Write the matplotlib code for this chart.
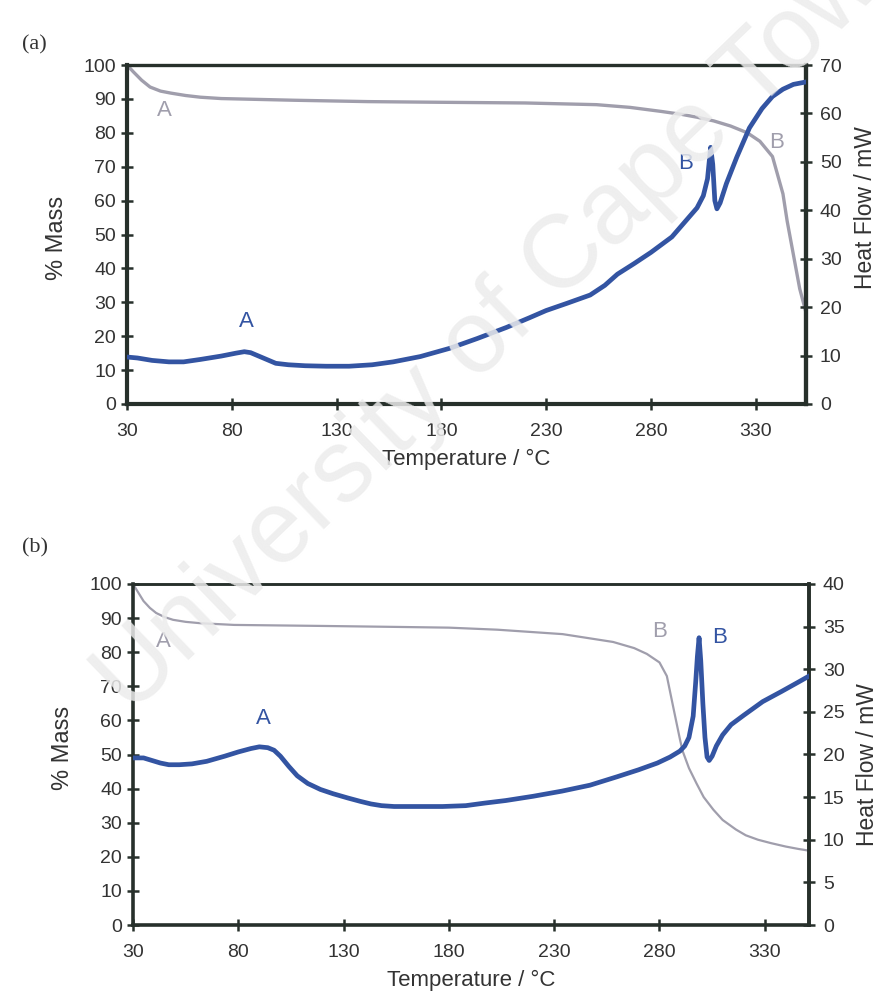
import matplotlib
matplotlib.use("Agg")
import matplotlib.pyplot as plt
import matplotlib.font_manager as fm

# ---------------- data ----------------
# Panel (a)
temp_a_mass = [30, 33, 37, 41, 46, 51, 58, 65, 75, 89, 110, 145, 180, 220, 254, 270, 285,
               295, 302, 310, 318, 326, 332, 338, 343, 345, 348, 351, 354]
mass_a = [100, 98, 95.5, 93.5, 92.3, 91.7, 91.0, 90.5, 90.1, 89.9, 89.6, 89.2, 89.0, 88.8,
          88.3, 87.5, 86.3, 85.4, 84.6, 83.5, 82.0, 80.0, 77.5, 73, 62, 54, 44, 34, 27]
temp_a_heat = [30, 35, 42, 50, 57, 65, 75, 82, 86, 89, 95, 101, 107, 115, 125, 136, 147, 157,
               170, 184, 197, 211, 222, 230, 240, 251, 258, 264, 272, 280, 290, 298, 302, 305,
               307, 308.5, 309.5, 310.5, 311.5, 313, 316, 321, 327, 333, 338, 343, 348, 354]
heat_a = [9.7, 9.5, 9.0, 8.7, 8.7, 9.2, 9.9, 10.5, 10.8, 10.6, 9.5, 8.4, 8.1, 7.9, 7.8, 7.8,
          8.1, 8.7, 9.8, 11.5, 13.5, 15.8, 17.8, 19.3, 20.8, 22.5, 24.5, 26.8, 29.0, 31.3,
          34.5, 38.5, 40.5, 43.0, 46.5, 53.0, 49.5, 42.0, 40.3, 41.5, 45.5, 51.0, 57.0, 61.0,
          63.5, 65.0, 66.0, 66.5]

# Panel (b)
temp_b_mass = [30, 32, 35, 38, 41, 45, 49, 55, 62, 78, 120, 157, 180, 203, 234, 258, 268, 274,
               280, 283.5, 286.5, 289.7, 291, 294, 297.6, 301, 305.6, 310, 316.3, 321, 326.8,
               333, 340, 346, 351]
mass_b = [100, 98, 95, 93, 91.5, 90.3, 89.5, 88.9, 88.5, 88.0, 87.7, 87.4, 87.2, 86.6, 85.3,
          83, 81.2, 79.5, 77, 73, 64, 54.5, 51, 46, 41.5, 37.5, 33.8, 30.8, 28, 26.3, 25, 24,
          23, 22.3, 21.8]
temp_b_heat = [30, 35, 39, 43, 47, 52, 58, 65, 73.5, 80, 86, 90, 94, 97, 100, 104, 108, 113,
               119, 125, 132, 138, 143, 148, 154, 165, 177, 188, 197, 207, 220, 233.6, 247, 260,
               270, 279, 285, 289.7, 292, 294, 296, 297.2, 298, 298.8, 299.6, 300.6, 301.6,
               302.6, 303.6, 305, 307, 310, 314, 320, 329, 338, 346, 351]
heat_b = [19.6, 19.6, 19.3, 19.0, 18.8, 18.8, 18.9, 19.2, 19.8, 20.3, 20.7, 20.9, 20.8, 20.5,
          19.8, 18.6, 17.5, 16.6, 15.9, 15.4, 14.9, 14.5, 14.2, 14.0, 13.9, 13.9, 13.9, 14.0,
          14.3, 14.6, 15.1, 15.7, 16.4, 17.4, 18.2, 19.0, 19.7, 20.4, 21.0, 22.0, 24.5, 28.5,
          31.5, 33.7, 31.0, 26.0, 22.0, 19.7, 19.3, 19.8, 21.0, 22.3, 23.5, 24.6, 26.2, 27.4,
          28.5, 29.2]

xticks = [30, 80, 130, 180, 230, 280, 330]
mass_ticks = list(range(0, 101, 10))
heat_ticks_a = list(range(0, 71, 10))
heat_ticks_b = list(range(0, 41, 5))

# ---------------- style ----------------
names = {f.name for f in fm.fontManager.ttflist}
narrow = 'Liberation Sans Narrow' if 'Liberation Sans Narrow' in names else 'Liberation Sans'
SANS = [narrow, 'Liberation Sans', 'DejaVu Sans']
plt.rcParams['font.family'] = SANS

BLUE = '#3354a2'
GRAY = '#a09eac'
SPINE = '#27302b'
TXT = '#333333'

fig = plt.figure(figsize=(8.8, 9.94), dpi=100)


def make_panel(rect, tm, m, th, h, xmax, hmax, hticks, spw, gray_lw, letters, tag, tagy,
               ylab_y, hlab_y):
    ax = fig.add_axes(rect)
    ax.plot(tm, m, color=GRAY, lw=gray_lw, zorder=2)
    ax.set_xlim(30, xmax)
    ax.set_ylim(0, 100)
    ax.set_xticks(xticks)
    ax.set_yticks(mass_ticks)
    for s in ax.spines.values():
        s.set_color(SPINE)
        s.set_linewidth(spw)
    ax.spines['top'].set_linewidth(spw * 0.8)
    ax.tick_params(axis='y', direction='inout', length=8, width=1.8, color=SPINE,
                   labelsize=14, labelcolor=TXT, pad=4)
    ax.tick_params(axis='x', direction='inout', length=8, width=1.8, color=SPINE,
                   labelsize=14, labelcolor=TXT, pad=10)
    ax.set_xlabel('Temperature / °C', fontsize=16, color=TXT, labelpad=6,
                  family=['Liberation Sans', 'DejaVu Sans'])
    ax.set_ylabel('% Mass', fontsize=17, color=TXT,
                  family=['Liberation Sans', 'DejaVu Sans'])
    ax.yaxis.set_label_coords(-0.087, ylab_y)

    ax2 = ax.twinx()
    ax2.plot(th, h, color=BLUE, lw=3.4, zorder=3, solid_joinstyle='round')
    ax2.set_ylim(0, hmax)
    ax2.set_yticks(hticks)
    ax2.spines['right'].set_color(SPINE)
    ax2.spines['right'].set_linewidth(spw)
    for k in ('left', 'top', 'bottom'):
        ax2.spines[k].set_visible(False)
    ax2.tick_params(axis='y', direction='inout', length=8, width=1.8, color=SPINE,
                    labelsize=14, labelcolor=TXT, pad=6)
    ax2.set_ylabel('Heat Flow / mW', fontsize=16.5, color=TXT, labelpad=8,
                   family=['Liberation Sans', 'DejaVu Sans'])
    ax2.yaxis.set_label_coords(1.07, hlab_y)

    for (txt, x, y, col) in letters:
        ax.text(x, y, txt, color=col, fontsize=16, ha='center', va='center', zorder=5,
                family=['Liberation Sans', 'DejaVu Sans'])
    fig.text(22 / 880, tagy, tag, fontsize=16, color=TXT, ha='left', va='center',
             family=['Liberation Serif', 'DejaVu Serif'])
    return ax, ax2


letters_a = [('A', 48, 86.7, GRAY), ('A', 87, 24.2, BLUE), ('B', 296.7, 71, BLUE),
             ('B', 340, 77, GRAY)]
letters_b = [('A', 44.2, 83, GRAY), ('A', 91.7, 60.7, BLUE), ('B', 280, 86, GRAY),
             ('B', 308.7, 84.2, BLUE)]

make_panel([127 / 880, 1 - 404 / 994, (806 - 127) / 880, (404 - 65) / 994],
           temp_a_mass, mass_a, temp_a_heat, heat_a, 354, 70, heat_ticks_a, 3.0, 2.4,
           letters_a, '(a)', 1 - 45 / 994, 0.49, 0.58)
make_panel([133 / 880, 1 - 925 / 994, (809 - 133) / 880, (925 - 584) / 994],
           temp_b_mass, mass_b, temp_b_heat, heat_b, 351, 40, heat_ticks_b, 2.6, 1.6,
           letters_b, '(b)', 1 - 548 / 994, 0.52, 0.47)

# watermark (runs off the figure edge, as in the reference)
fig.text(0.58, 0.685, 'University of Cape Town', fontsize=74, color='#ececec',
         rotation=44, ha='center', va='center', zorder=10, alpha=0.85,
         family=['Liberation Sans', 'DejaVu Sans'])

fig.savefig('out.png', dpi=100, facecolor='white')
